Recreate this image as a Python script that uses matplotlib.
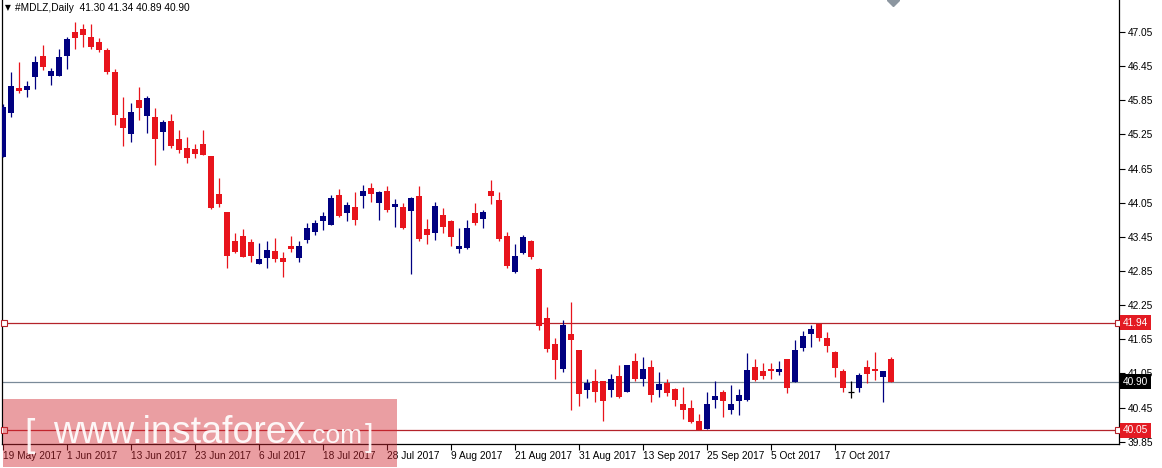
import numpy as np
import matplotlib
matplotlib.use("Agg")
import matplotlib.pyplot as plt
from matplotlib.patches import Rectangle
import matplotlib.transforms as mtransforms

# daily candles, 19 May 2017 .. 26 Oct 2017 (one entry per trading day)
opens = [44.86, 45.63, 46.07, 46.03, 46.25, 46.63, 46.27, 46.28, 46.63, 47.05,
         47.10, 46.96, 46.88, 46.73, 46.35, 45.53, 45.25, 45.86, 45.58, 45.55,
         45.30, 45.48, 45.17, 45.01, 44.99, 45.08, 44.87, 44.20, 43.89, 43.38,
         43.47, 43.36, 42.98, 43.07, 43.20, 43.07, 43.29, 43.08, 43.40, 43.54,
         43.72, 43.66, 44.19, 43.86, 43.98, 44.17, 44.30, 44.04, 44.26, 43.97,
         43.98, 43.91, 44.17, 43.58, 43.52, 43.83, 43.72, 43.24, 43.26, 43.86,
         43.77, 44.26, 44.10, 43.47, 42.84, 43.16, 43.38, 42.89, 42.02, 41.57,
         41.13, 41.75, 41.46, 40.75, 40.92, 40.91, 40.75, 41.01, 40.73, 41.26,
         40.95, 41.16, 40.76, 40.88, 40.78, 40.52, 40.44, 40.21, 40.08, 40.58,
         40.73, 40.41, 40.57, 40.58, 41.16, 41.09, 41.12, 41.07, 41.30, 40.89,
         41.49, 41.74, 41.92, 41.68, 41.43, 41.10, 40.73, 40.80, 41.16, 41.12,
         40.99, 41.30]
highs = [45.78, 46.34, 46.53, 46.18, 46.62, 46.82, 46.41, 46.75, 46.97, 47.22,
         47.19, 47.19, 46.94, 46.77, 46.40, 45.91, 45.80, 46.09, 45.93, 45.71,
         45.50, 45.61, 45.33, 45.21, 45.08, 45.33, 44.87, 44.48, 43.89, 43.52,
         43.59, 43.42, 43.35, 43.38, 43.43, 43.19, 43.47, 43.38, 43.70, 43.75,
         43.88, 44.19, 44.29, 44.06, 44.23, 44.36, 44.39, 44.26, 44.35, 44.11,
         44.05, 44.15, 44.35, 43.76, 44.06, 43.96, 43.75, 43.60, 43.75, 44.04,
         43.93, 44.45, 44.23, 43.54, 43.32, 43.48, 43.40, 42.90, 42.21, 41.67,
         41.99, 42.30, 41.46, 40.96, 41.12, 40.91, 41.04, 41.20, 41.20, 41.41,
         41.34, 41.29, 41.08, 40.95, 40.80, 40.81, 40.59, 40.34, 40.73, 40.91,
         40.76, 40.85, 40.77, 41.41, 41.30, 41.24, 41.24, 41.27, 41.30, 41.64,
         41.80, 41.90, 41.94, 41.77, 41.44, 41.12, 40.91, 41.06, 41.29, 41.42,
         41.10, 41.34]
lows = [44.86, 45.56, 45.97, 45.90, 46.05, 46.38, 46.12, 46.28, 46.40, 46.75,
        46.79, 46.75, 46.69, 46.32, 45.42, 45.05, 45.11, 45.50, 45.28, 44.71,
        44.97, 45.01, 44.92, 44.74, 44.84, 44.89, 43.94, 43.98, 42.91, 43.16,
        43.09, 43.00, 42.98, 42.90, 43.00, 42.75, 43.18, 43.01, 43.35, 43.48,
        43.57, 43.65, 43.79, 43.72, 43.66, 43.95, 44.06, 43.74, 43.88, 43.62,
        43.59, 42.79, 43.37, 43.32, 43.40, 43.52, 43.28, 43.17, 43.24, 43.66,
        43.61, 44.02, 43.38, 42.90, 42.82, 43.14, 43.06, 41.81, 41.42, 40.96,
        41.08, 40.41, 40.48, 40.61, 40.55, 40.22, 40.64, 40.61, 40.73, 40.92,
        40.82, 40.55, 40.64, 40.65, 40.47, 40.24, 40.17, 40.06, 40.08, 40.45,
        40.29, 40.34, 40.31, 40.57, 40.92, 40.95, 40.95, 41.03, 40.71, 40.89,
        41.45, 41.52, 41.62, 41.43, 40.99, 40.73, 40.62, 40.73, 40.88, 40.93,
        40.55, 40.89]
closes = [45.74, 46.10, 46.02, 46.10, 46.52, 46.44, 46.37, 46.61, 46.93, 46.95,
          46.99, 46.78, 46.73, 46.35, 45.59, 45.36, 45.64, 45.72, 45.89, 45.17,
          45.46, 45.04, 44.97, 44.84, 44.90, 44.89, 43.95, 44.03, 43.11, 43.19,
          43.10, 43.11, 43.06, 43.22, 43.06, 43.00, 43.24, 43.29, 43.60, 43.69,
          43.81, 44.13, 43.82, 44.01, 43.75, 44.26, 44.20, 44.24, 43.93, 44.03,
          43.60, 44.13, 43.41, 43.49, 43.99, 43.63, 43.45, 43.29, 43.60, 43.69,
          43.88, 44.17, 43.41, 42.93, 43.11, 43.44, 43.10, 41.89, 41.48, 41.29,
          41.90, 41.63, 40.68, 40.88, 40.73, 40.57, 40.96, 40.63, 41.20, 40.95,
          41.13, 40.67, 40.86, 40.71, 40.58, 40.41, 40.20, 40.06, 40.51, 40.65,
          40.57, 40.52, 40.67, 41.11, 40.93, 41.01, 41.10, 41.12, 40.79, 41.46,
          41.71, 41.83, 41.68, 41.54, 41.14, 40.80, 40.73, 41.02, 41.04, 41.10,
          41.10, 40.90]

date_labels = ["19 May 2017", "1 Jun 2017", "13 Jun 2017", "23 Jun 2017",
               "6 Jul 2017", "18 Jul 2017", "28 Jul 2017", "9 Aug 2017",
               "21 Aug 2017", "31 Aug 2017", "13 Sep 2017", "25 Sep 2017",
               "5 Oct 2017", "17 Oct 2017"]
bars_per_label = 8

resistance = 41.94
support = 40.05
last_price = 40.90
price_ticks = [39.85, 40.45, 41.05, 41.65, 42.25, 42.85, 43.45, 44.05,
               44.65, 45.25, 45.85, 46.45, 47.05]

W, H = 1162, 468
BULL = "#000080"
BEAR = "#e8141c"
LEVEL = "#b4232a"
FONT = "Liberation Sans"
FS = 7.3

fig = plt.figure(figsize=(W / 100, H / 100), dpi=100)
ax = fig.add_axes([2 / W, 24 / H, 1117 / W, 444 / H])

x = np.arange(len(opens))
o = np.array(opens)
c = np.array(closes)
colors = [BULL if cc > oo else (BEAR if cc < oo else "black") for oo, cc in zip(o, c)]

ax.vlines(x, lows, highs, colors=colors, linewidth=0.9, zorder=3)
body_lo = np.minimum(o, c)
body_h = np.abs(c - o)
ax.bar(x, body_h, bottom=body_lo, width=0.65, color=colors, linewidth=0, zorder=4)
for xi, oo, cc in zip(x, o, c):
    if oo == cc:
        ax.hlines(oo, xi - 0.35, xi + 0.35, color="black", linewidth=0.9, zorder=4)

# horizontal levels
ax.axhline(resistance, color=LEVEL, linewidth=0.9, zorder=2)
ax.axhline(support, color=LEVEL, linewidth=0.9, zorder=2)
ax.axhline(last_price, color="#7a8a99", linewidth=0.9, zorder=1)
for lvl in (resistance, support):
    ax.plot([0.15, 139.35], [lvl, lvl], linestyle="none", marker="s", ms=4,
            mfc="white", mec=LEVEL, mew=0.8, zorder=5, clip_on=False)

# chart shift marker at the top
ax.plot([111.3], [47.612], marker="D", ms=6, color="#8c96a0", zorder=5)

ax.set_xlim(-0.125, 139.5)
ax.set_ylim(39.809, 47.612)

for s in ("left", "right", "bottom"):
    ax.spines[s].set_color("black")
    ax.spines[s].set_linewidth(0.9)
ax.spines["top"].set_visible(False)

ax.yaxis.tick_right()
ax.set_yticks(price_ticks)
ax.set_yticklabels(["%.2f" % v for v in price_ticks], family=FONT)
ax.tick_params(axis="y", direction="out", length=4, width=0.8, pad=2,
               labelsize=FS, colors="black")

ax.set_xticks(np.arange(len(date_labels)) * bars_per_label)
ax.set_xticklabels(date_labels, family=FONT)
for lab in ax.get_xticklabels():
    lab.set_horizontalalignment("left")
ax.tick_params(axis="x", direction="out", length=4, width=0.8, pad=1,
               labelsize=FS, colors="black")

# right-hand price tags
trans = mtransforms.blended_transform_factory(ax.transAxes, ax.transData)
for val, bg in ((resistance, "#e31b23"), (last_price, "black"), (support, "#e31b23")):
    ax.text(1.0 + 4 / 1117, val, "%.2f" % val, transform=trans, fontsize=FS,
            family=FONT, color="white", va="center", ha="left", zorder=6,
            bbox=dict(boxstyle="square,pad=0.25", fc=bg, ec="none"))

fig.text(5 / W, 1 - 8 / H, "\u25bc", fontsize=5.5, va="center", ha="left")
fig.text(15 / W, 1 - 8 / H, "#MDLZ,Daily  41.30 41.34 40.89 40.90",
         fontsize=FS, family=FONT, va="center", ha="left")

# watermark
fig.add_artist(Rectangle((3 / W, 1 / H), 394 / W, 68 / H, transform=fig.transFigure,
                         facecolor=(210 / 255, 40 / 255, 50 / 255), alpha=0.45,
                         edgecolor="none", zorder=10))
wm = dict(color="white", alpha=0.92, va="baseline", ha="left", zorder=11,
          family=FONT)
fig.text(24 / W, (H - 446) / H, "[", fontsize=27, **wm)
fig.text(53 / W, (H - 443) / H, "www.instaforex", fontsize=27, **wm)
fig.text(306 / W, (H - 443) / H, ".com", fontsize=19, **wm)
fig.text(365 / W, (H - 446) / H, "]", fontsize=22, **wm)

fig.savefig("out.png", dpi=100)
